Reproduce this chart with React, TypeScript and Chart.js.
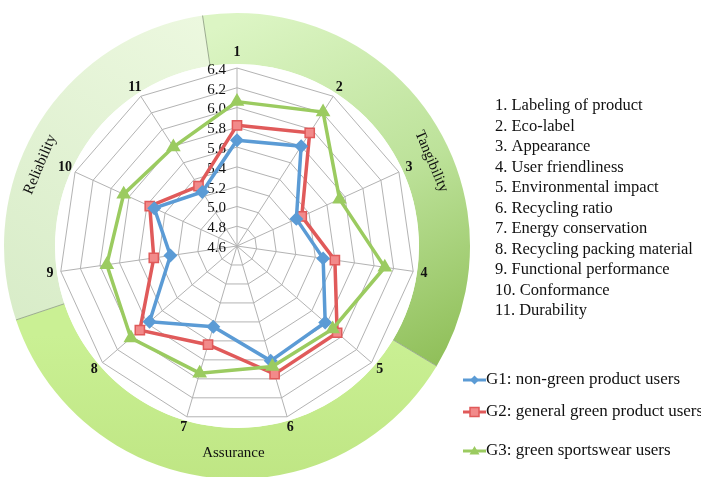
import React, { useEffect, useRef } from "react";
import { Chart, registerables } from "chart.js";

Chart.register(...registerables);

const categories = ["1", "2", "3", "4", "5", "6", "7", "8", "9", "10", "11"];
const g1Values = [5.67, 5.8, 5.26, 5.48, 5.78, 5.81, 5.45, 5.77, 5.28, 5.52, 5.25];
const g2Values = [5.82, 5.96, 5.32, 5.6, 5.94, 5.95, 5.64, 5.9, 5.45, 5.57, 5.32];
const g3Values = [6.06, 6.21, 5.74, 6.11, 5.88, 5.87, 5.94, 6.02, 5.93, 5.86, 5.79];
const tickLabels = ["4.6", "4.8", "5.0", "5.2", "5.4", "5.6", "5.8", "6.0", "6.2", "6.4"];
const itemNames = [
  "1. Labeling of product",
  "2. Eco-label",
  "3. Appearance",
  "4. User friendliness",
  "5. Environmental impact",
  "6. Recycling ratio",
  "7. Energy conservation",
  "8. Recycling packing material",
  "9. Functional performance",
  "10. Conformance",
  "11. Durability",
];
const seriesNames = [
  "G1: non-green product users",
  "G2: general green product users",
  "G3: green sportswear users",
];
const dimensionNames = ["Tangibility", "Assurance", "Reliability"];

const BLUE = "#5b9bd5";
const RED = "#e05a5a";
const RED_FILL = "#f28a8a";
const GREEN = "#9bcb60";
const SERIF = '"Liberation Serif", "Times New Roman", serif';

const rad = (deg: number) => ((deg - 90) * Math.PI) / 180;

function marker(ctx: CanvasRenderingContext2D, kind: number, x: number, y: number) {
  ctx.beginPath();
  if (kind === 0) {
    ctx.moveTo(x, y - 4.5);
    ctx.lineTo(x + 4.5, y);
    ctx.lineTo(x, y + 4.5);
    ctx.lineTo(x - 4.5, y);
    ctx.closePath();
    ctx.fillStyle = BLUE;
    ctx.fill();
  } else if (kind === 1) {
    ctx.rect(x - 4.5, y - 4.5, 9, 9);
    ctx.fillStyle = RED_FILL;
    ctx.fill();
    ctx.strokeStyle = RED;
    ctx.lineWidth = 1.5;
    ctx.stroke();
  } else {
    ctx.moveTo(x, y - 5);
    ctx.lineTo(x + 5, y + 3.5);
    ctx.lineTo(x - 5, y + 3.5);
    ctx.closePath();
    ctx.fillStyle = GREEN;
    ctx.fill();
  }
}

const ringPlugin = {
  id: "ring",
  beforeDraw(chart: any) {
    const s = chart.scales.r;
    const ctx = chart.ctx as CanvasRenderingContext2D;
    const cx = s.xCenter;
    const cy = s.yCenter;
    const R = s.drawingArea;
    const ro = R + 55;
    const ri = R + 4;
    ctx.save();
    const seg = (a1: number, a2: number, fill: any) => {
      ctx.beginPath();
      ctx.arc(cx, cy, ro, rad(a1), rad(a2));
      ctx.arc(cx, cy, ri, rad(a2), rad(a1), true);
      ctx.closePath();
      ctx.fillStyle = fill;
      ctx.fill();
    };
    // Tangibility
    let g = ctx.createLinearGradient(cx + 10, cy - ro, cx + ro * 0.8, cy + ro * 0.6);
    g.addColorStop(0, "#dcf5c4");
    g.addColorStop(0.5, "#bde29a");
    g.addColorStop(1, "#8dbd55");
    seg(-8.5, 121, g);
    // Assurance
    g = ctx.createLinearGradient(cx, cy + R * 0.5, cx, cy + ro);
    g.addColorStop(0, "#caf094");
    g.addColorStop(1, "#bfe684");
    seg(121, 251.5, g);
    // Reliability
    g = ctx.createLinearGradient(cx - 40, cy - ro, cx - ro, cy + R * 0.4);
    g.addColorStop(0, "#ecf8df");
    g.addColorStop(1, "#d8ecc8");
    seg(251.5, 351.5, g);
    // dividers
    ctx.strokeStyle = "#9aab8e";
    ctx.lineWidth = 1;
    [-8.5, 121, 251.5].forEach((a) => {
      ctx.beginPath();
      ctx.moveTo(cx + ri * Math.cos(rad(a)), cy + ri * Math.sin(rad(a)));
      ctx.lineTo(cx + ro * Math.cos(rad(a)), cy + ro * Math.sin(rad(a)));
      ctx.stroke();
    });
    // inner white disc
    ctx.beginPath();
    ctx.arc(cx, cy, ri, 0, Math.PI * 2);
    ctx.fillStyle = "#ffffff";
    ctx.fill();
    // dimension labels
    ctx.fillStyle = "#111111";
    ctx.font = "15px " + SERIF;
    ctx.textAlign = "center";
    ctx.textBaseline = "middle";
    const dims = [
      { a: 66.5, r: R + 34, rot: 67 },
      { a: 181, r: R + 29, rot: 0 },
      { a: -67.5, r: R + 35, rot: -67 },
    ];
    dims.forEach((d, i) => {
      ctx.save();
      ctx.translate(cx + d.r * Math.cos(rad(d.a)), cy + d.r * Math.sin(rad(d.a)));
      ctx.rotate((d.rot * Math.PI) / 180);
      ctx.fillText(dimensionNames[i], 0, 0);
      ctx.restore();
    });
    ctx.restore();
  },
  beforeDatasetsDraw(chart: any) {
    const s = chart.scales.r;
    const ctx = chart.ctx as CanvasRenderingContext2D;
    const cx = s.xCenter;
    const cy = s.yCenter;
    ctx.save();
    ctx.fillStyle = "#111111";
    ctx.font = "15px " + SERIF;
    ctx.textAlign = "right";
    ctx.textBaseline = "middle";
    tickLabels.forEach((t) => {
      const d = s.getDistanceFromCenterForValue(parseFloat(t));
      ctx.fillText(t, cx - 11, cy - d + 2);
    });
    ctx.font = "bold 14px " + SERIF;
    ctx.textAlign = "center";
    categories.forEach((c, i) => {
      const p = s.getPointPosition(i, s.drawingArea + (i === 0 ? 16 : 11));
      ctx.fillText(c, p.x, p.y);
    });
    ctx.restore();
  },
  afterDraw(chart: any) {
    const ctx = chart.ctx as CanvasRenderingContext2D;
    ctx.save();
    ctx.fillStyle = "#111111";
    ctx.font = "16.5px " + SERIF;
    ctx.textAlign = "left";
    ctx.textBaseline = "middle";
    itemNames.forEach((t, i) => {
      ctx.fillText(t, 495, 106 + i * 20.5);
    });
    const ys = [380, 412, 451];
    const colors = [BLUE, RED, GREEN];
    seriesNames.forEach((t, i) => {
      const y = ys[i];
      ctx.strokeStyle = colors[i];
      ctx.lineWidth = 3;
      ctx.beginPath();
      ctx.moveTo(463, y);
      ctx.lineTo(486, y);
      ctx.stroke();
      marker(ctx, i, 474.5, y);
      ctx.fillStyle = "#111111";
      ctx.font = "17px " + SERIF;
      ctx.fillText(t, 486, y);
    });
    ctx.restore();
  },
};

export default function App() {
  const ref = useRef<HTMLCanvasElement | null>(null);
  useEffect(() => {
    if (!ref.current) return;
    const chart = new Chart(ref.current, {
      type: "radar",
      data: {
        labels: categories,
        datasets: [
          {
            label: seriesNames[0],
            data: g1Values,
            borderColor: BLUE,
            backgroundColor: BLUE,
            pointBackgroundColor: BLUE,
            pointBorderColor: BLUE,
            pointStyle: "rectRot",
            pointRadius: 4.5,
            borderWidth: 3.5,
            fill: false,
            order: 1,
          },
          {
            label: seriesNames[1],
            data: g2Values,
            borderColor: RED,
            backgroundColor: RED_FILL,
            pointBackgroundColor: RED_FILL,
            pointBorderColor: RED,
            pointBorderWidth: 1.5,
            pointStyle: "rect",
            pointRadius: 6.5,
            borderWidth: 3.5,
            fill: false,
            order: 2,
          },
          {
            label: seriesNames[2],
            data: g3Values,
            borderColor: GREEN,
            backgroundColor: GREEN,
            pointBackgroundColor: GREEN,
            pointBorderColor: GREEN,
            pointStyle: "triangle",
            pointRadius: 5,
            borderWidth: 3.5,
            fill: false,
            order: 0,
          },
        ],
      },
      options: {
        responsive: false,
        animation: false,
        layout: { padding: { left: 59, top: 68, right: 286, bottom: 53 } },
        plugins: { legend: { display: false }, tooltip: { enabled: false } },
        elements: { line: { tension: 0 } },
        scales: {
          r: {
            min: 4.6,
            max: 6.4,
            ticks: { stepSize: 0.2, display: false },
            pointLabels: { display: false },
            grid: { color: "#b3b3b3", lineWidth: 1 },
            angleLines: { color: "#b3b3b3", lineWidth: 1 },
          },
        },
      },
      plugins: [ringPlugin],
    });
    return () => chart.destroy();
  }, []);
  return (
    <div style={{ position: "absolute", left: 0, top: 0, width: 701, height: 477, background: "#fff" }}>
      <canvas ref={ref} width={701} height={477} style={{ width: 701, height: 477 }} />
    </div>
  );
}
